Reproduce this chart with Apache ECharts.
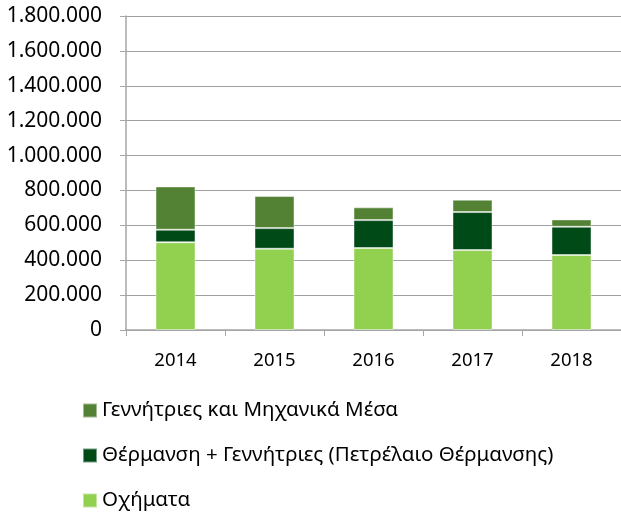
<!DOCTYPE html>
<html>
<head>
<meta charset="utf-8">
<script src="https://cdn.jsdelivr.net/npm/echarts@6/dist/echarts.min.js"></script>
<style>
  html, body { margin: 0; padding: 0; background: #fff; }
  #chart { width: 621px; height: 516px; }
</style>
</head>
<body>
<div id="chart"></div>
<script>
    // τιμές ανά έτος (εκτίμηση από το γράφημα)
    var years = ['2014', '2015', '2016', '2017', '2018'];
    var vehicles = [503000, 466000, 470000, 458000, 430000];
    var heating = [72000, 118000, 160000, 218000, 162000];
    var generators = [248000, 184000, 73000, 71000, 42000];

    var nameGen = 'Γεννήτριες και Μηχανικά Μέσα';
    var nameHeat = 'Θέρμανση + Γεννήτριες (Πετρέλαιο Θέρμανσης)';
    var nameVeh = 'Οχήματα';

    var fontFamily = 'Noto Sans';

    function fmt(v) {
        // 1800000 -> 1.800.000
        return String(v).replace(/\B(?=(\d{3})+(?!\d))/g, '.');
    }

    var chart = echarts.init(document.getElementById('chart'));

    var barStyle = function (color) {
        return {color: color, borderColor: 'rgba(255,255,255,0.45)', borderWidth: 1};
    };

    chart.setOption({
        animation: false,
        textStyle: {fontFamily: fontFamily},
        grid: {left: 126, right: 0, top: 16, bottom: 186},
        legend: {
            orient: 'vertical',
            left: 77,
            top: 395,
            height: 160,
            itemWidth: 14,
            itemHeight: 14,
            itemGap: 24,
            icon: 'rect',
            textStyle: {fontSize: 20.5, color: '#000', fontFamily: fontFamily},
            data: [nameGen, nameHeat, nameVeh]
        },
        xAxis: {
            type: 'category',
            data: years,
            axisLine: {lineStyle: {color: '#a6a6a6', width: 1.5}},
            axisTick: {show: true, length: 6, lineStyle: {color: '#a6a6a6'}},
            axisLabel: {color: '#000', fontSize: 18.5, margin: 21}
        },
        yAxis: {
            type: 'value',
            min: 0,
            max: 1800000,
            interval: 200000,
            axisLine: {show: true, lineStyle: {color: '#a6a6a6', width: 1.5}},
            axisTick: {show: true, inside: false, length: 6, lineStyle: {color: '#a6a6a6'}},
            splitLine: {lineStyle: {color: '#a0a0a0', width: 1.2}},
            axisLabel: {color: '#000', fontSize: 21, margin: 24, formatter: fmt}
        },
        series: [
            {name: nameVeh, type: 'bar', stack: 'total', barWidth: 40, data: vehicles, itemStyle: barStyle('#92d050')},
            {name: nameHeat, type: 'bar', stack: 'total', barWidth: 40, data: heating, itemStyle: barStyle('#004a17')},
            {name: nameGen, type: 'bar', stack: 'total', barWidth: 40, data: generators, itemStyle: barStyle('#548235')}
        ]
    });
</script>
</body>
</html>
